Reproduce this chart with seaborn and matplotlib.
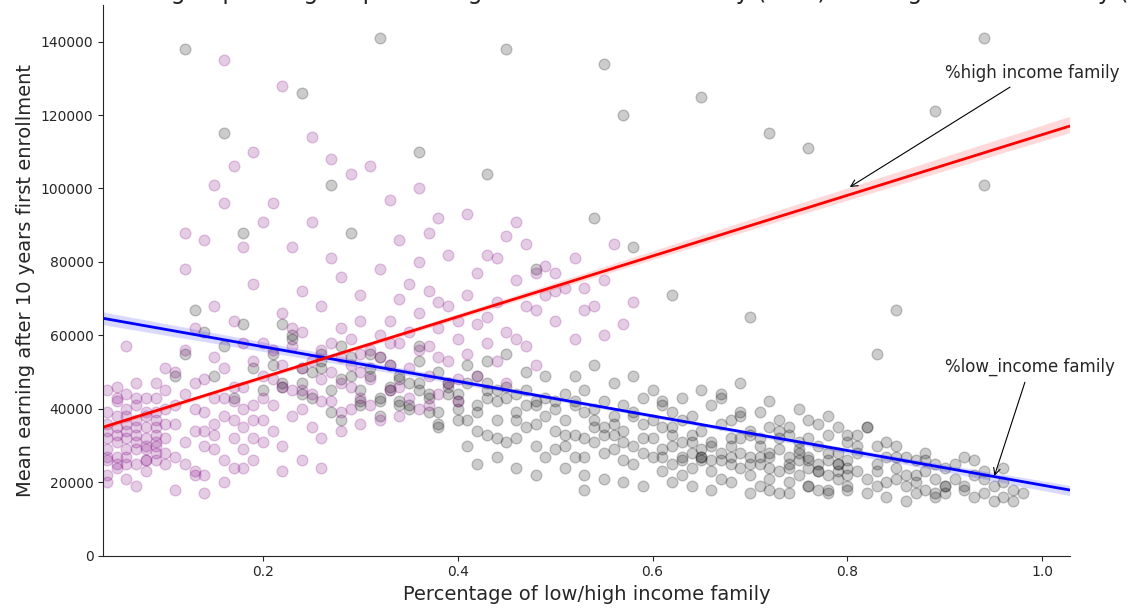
import matplotlib
matplotlib.use('Agg')
import matplotlib.pyplot as plt
import seaborn as sns
import pandas as pd

# (share of low income family, mean earning in thousands)
low_points = [
    # 0.1 - 0.2
    (0.12,55),(0.14,61),(0.15,49),(0.16,57),(0.17,43),(0.18,63),(0.19,51),(0.13,67),(0.20,45),(0.11,49),
    # 0.2 - 0.3
    (0.21,55),(0.22,47),(0.23,59),(0.24,51),(0.25,43),(0.26,53),(0.27,45),(0.28,57),(0.29,49),(0.30,41),
    (0.21,52),(0.22,46),(0.23,60),(0.24,44),(0.25,50),(0.26,55),(0.27,39),(0.28,48),(0.29,54),(0.30,42),
    (0.22,63),(0.24,47),(0.26,51),(0.28,37),(0.30,45),
    # 0.3 - 0.4
    (0.31,49),(0.32,43),(0.33,52),(0.34,41),(0.35,47),(0.36,45),(0.37,39),(0.38,50),(0.39,44),(0.40,37),
    (0.31,55),(0.32,42),(0.33,46),(0.34,48),(0.35,40),(0.36,53),(0.37,44),(0.38,35),(0.39,47),(0.40,42),
    (0.31,51),(0.32,38),(0.33,45),(0.34,49),(0.35,41),(0.36,57),(0.37,43),(0.38,36),(0.39,46),(0.40,40),
    (0.32,54),(0.34,42),(0.36,47),(0.38,39),(0.40,44),
    # 0.4 - 0.5
    (0.41,47),(0.42,41),(0.43,45),(0.44,37),(0.45,43),(0.46,39),(0.47,35),(0.48,42),(0.49,38),(0.50,34),
    (0.41,37),(0.42,49),(0.43,33),(0.44,45),(0.45,31),(0.46,44),(0.47,41),(0.48,30),(0.49,43),(0.50,40),
    (0.41,52),(0.42,34),(0.43,47),(0.44,32),(0.45,46),(0.46,32),(0.47,45),(0.48,36),(0.49,27),(0.50,42),
    (0.41,30),(0.43,53),(0.45,55),(0.47,50),(0.49,49),(0.42,25),(0.44,27),(0.46,24),(0.48,22),(0.50,29),
    (0.42,39),(0.44,42),(0.46,37),(0.48,41),(0.43,43),
    # 0.5 - 0.6
    (0.51,37),(0.52,33),(0.53,39),(0.54,31),(0.55,35),(0.56,29),(0.57,34),(0.58,30),(0.59,36),(0.60,32),
    (0.51,30),(0.52,42),(0.53,27),(0.54,40),(0.55,28),(0.56,38),(0.57,26),(0.58,39),(0.59,28),(0.60,37),
    (0.51,44),(0.52,27),(0.53,45),(0.54,35),(0.55,42),(0.56,33),(0.57,41),(0.58,25),(0.59,43),(0.60,27),
    (0.51,24),(0.53,22),(0.55,21),(0.57,20),(0.59,19),(0.52,49),(0.54,52),(0.56,47),(0.58,49),(0.60,45),
    (0.51,33),(0.53,32),(0.55,33),(0.57,31),(0.59,32),(0.53,18),(0.52,41),(0.54,37),(0.56,36),(0.58,38),
    # 0.6 - 0.7
    (0.61,29),(0.62,33),(0.63,27),(0.64,31),(0.65,26),(0.66,30),(0.67,28),(0.68,25),(0.69,32),(0.70,27),
    (0.61,35),(0.62,25),(0.63,37),(0.64,24),(0.65,34),(0.66,23),(0.67,36),(0.68,30),(0.69,24),(0.70,33),
    (0.61,23),(0.62,39),(0.63,22),(0.64,38),(0.65,29),(0.66,41),(0.67,21),(0.68,37),(0.69,39),(0.70,22),
    (0.61,41),(0.63,43),(0.65,45),(0.67,43),(0.69,47),(0.62,20),(0.64,19),(0.66,18),(0.68,20),(0.70,17),
    (0.61,42),(0.62,35),(0.64,33),(0.66,31),(0.68,32),(0.70,34),(0.65,27),(0.63,26),(0.67,44),(0.69,38),
    (0.61,27),(0.63,31),(0.65,27),(0.67,26),(0.69,28),(0.62,30),(0.64,28),(0.66,26),(0.68,27),(0.70,25),
    # 0.7 - 0.8
    (0.71,27),(0.72,24),(0.73,29),(0.74,25),(0.75,22),(0.76,27),(0.77,23),(0.78,26),(0.79,21),(0.80,24),
    (0.71,32),(0.72,21),(0.73,34),(0.74,20),(0.75,31),(0.76,19),(0.77,30),(0.78,18),(0.79,28),(0.80,19),
    (0.71,19),(0.72,35),(0.73,17),(0.74,33),(0.75,26),(0.76,37),(0.77,18),(0.78,33),(0.79,25),(0.80,31),
    (0.71,39),(0.72,42),(0.73,37),(0.74,35),(0.75,40),(0.76,32),(0.77,36),(0.78,38),(0.79,35),(0.80,33),
    (0.71,30),(0.72,27),(0.73,32),(0.74,24),(0.75,29),(0.76,26),(0.77,23),(0.78,28),(0.79,25),(0.80,22),
    (0.71,25),(0.72,28),(0.73,23),(0.74,27),(0.75,28),(0.76,24),(0.77,25),(0.78,22),(0.79,23),(0.80,26),
    (0.72,18),(0.74,17),(0.76,19),(0.78,17),(0.80,18),
    # 0.8 - 0.9
    (0.81,23),(0.82,21),(0.83,25),(0.84,20),(0.85,24),(0.86,19),(0.87,22),(0.88,18),(0.89,21),(0.90,19),
    (0.81,28),(0.82,17),(0.83,30),(0.84,16),(0.85,27),(0.86,15),(0.87,26),(0.88,23),(0.89,16),(0.90,24),
    (0.81,33),(0.82,35),(0.83,19),(0.84,31),(0.85,30),(0.86,27),(0.87,17),(0.88,28),(0.89,25),(0.90,17),
    (0.81,30),(0.82,35),(0.84,27),(0.85,21),(0.83,23),(0.86,22),(0.88,26),(0.89,17),(0.87,20),(0.90,19),
    # 0.9 - 1.0
    (0.91,21),(0.92,18),(0.93,22),(0.94,17),(0.95,19),(0.96,16),(0.97,18),(0.91,25),(0.92,27),(0.93,16),
    (0.94,23),(0.95,15),(0.96,20),(0.97,15),(0.98,17),(0.93,26),(0.96,24),(0.92,19),(0.94,21),
    # scattered high earners
    (0.12,138),(0.16,115),(0.24,126),(0.27,101),(0.32,141),(0.36,110),(0.45,138),(0.43,104),(0.55,134),
    (0.57,120),(0.65,125),(0.72,115),(0.76,111),(0.89,121),(0.94,141),(0.94,101),
    (0.54,92),(0.62,71),(0.70,65),(0.85,67),(0.83,55),(0.58,84),(0.18,88),(0.29,88),(0.48,78),
]

# (share of high income family, mean earning in thousands)
high_points = [
    # 0.0 - 0.1
    (0.02,32),(0.03,37),(0.04,29),(0.05,35),(0.06,40),(0.07,33),(0.08,38),(0.09,43),(0.10,36),
    (0.02,26),(0.03,44),(0.04,34),(0.05,27),(0.06,32),(0.07,41),(0.08,30),(0.09,35),(0.10,45),
    (0.03,24),(0.04,39),(0.05,46),(0.06,25),(0.07,37),(0.08,43),(0.09,28),(0.10,32),(0.04,26),
    (0.05,31),(0.06,36),(0.07,29),(0.08,35),(0.09,39),(0.03,34),(0.04,22),(0.05,38),(0.06,44),
    (0.07,47),(0.08,26),(0.09,33),(0.10,40),(0.04,32),(0.05,42),(0.06,29),(0.07,25),(0.08,26),
    (0.09,37),(0.03,41),(0.04,36),(0.05,33),(0.06,38),(0.07,35),(0.08,32),(0.09,30),(0.10,28),
    (0.04,27),(0.05,25),(0.06,21),(0.07,43),(0.08,39),(0.03,30),(0.04,45),(0.06,34),(0.07,31),
    (0.05,24),(0.08,23),(0.09,47),(0.10,51),(0.02,39),(0.03,28),(0.06,57),(0.07,19),(0.09,26),
    (0.05,43),(0.08,29),(0.06,27),(0.04,20),(0.10,25),(0.09,31),
    # 0.1 - 0.2
    (0.11,36),(0.12,31),(0.13,40),(0.14,34),(0.15,43),(0.16,38),(0.17,32),(0.18,46),(0.19,41),(0.20,37),
    (0.11,27),(0.12,44),(0.13,23),(0.14,48),(0.15,29),(0.16,51),(0.17,42),(0.18,35),(0.19,26),(0.20,49),
    (0.11,41),(0.12,25),(0.13,34),(0.14,39),(0.15,36),(0.16,26),(0.17,46),(0.18,40),(0.19,53),(0.20,31),
    (0.12,56),(0.13,47),(0.14,30),(0.15,54),(0.16,43),(0.17,24),(0.18,58),(0.19,37),(0.20,43),(0.11,50),
    (0.13,62),(0.15,68),(0.17,64),(0.19,74),(0.12,78),(0.14,86),(0.16,96),(0.18,84),(0.20,91),(0.15,101),
    (0.13,22),(0.16,20),(0.18,24),(0.11,18),(0.14,22),(0.17,106),(0.19,110),(0.12,88),(0.16,135),(0.20,58),
    (0.14,17),(0.18,29),(0.15,33),(0.17,37),(0.19,32),
    # 0.2 - 0.3
    (0.21,41),(0.22,46),(0.23,38),(0.24,51),(0.25,44),(0.26,48),(0.27,42),(0.28,54),(0.29,46),(0.30,50),
    (0.21,34),(0.22,52),(0.23,57),(0.24,40),(0.25,35),(0.26,56),(0.27,50),(0.28,39),(0.29,59),(0.30,43),
    (0.21,48),(0.22,30),(0.23,45),(0.24,61),(0.25,53),(0.26,32),(0.27,58),(0.28,47),(0.29,40),(0.30,55),
    (0.22,66),(0.24,72),(0.26,68),(0.28,76),(0.30,64),(0.23,84),(0.25,91),(0.27,81),(0.29,104),(0.21,96),
    (0.24,26),(0.26,24),(0.28,34),(0.22,23),(0.30,36),(0.25,114),(0.22,128),(0.27,108),(0.23,62),(0.29,52),
    (0.21,56),(0.26,42),(0.28,62),(0.24,45),(0.30,71),
    # 0.3 - 0.4
    (0.31,48),(0.32,54),(0.33,45),(0.34,58),(0.35,51),(0.36,56),(0.37,49),(0.38,62),(0.39,53),(0.40,59),
    (0.31,41),(0.32,60),(0.33,64),(0.34,46),(0.35,43),(0.36,66),(0.37,57),(0.38,44),(0.39,68),(0.40,48),
    (0.31,56),(0.32,37),(0.33,52),(0.34,70),(0.35,61),(0.36,40),(0.37,72),(0.38,54),(0.39,47),(0.40,64),
    (0.32,78),(0.34,86),(0.36,80),(0.38,92),(0.33,97),(0.35,74),(0.37,88),(0.39,82),(0.31,106),(0.36,100),
    (0.34,38),(0.37,41),(0.40,42),(0.33,58),(0.38,69),
    # 0.4 - 0.6
    (0.41,55),(0.42,63),(0.43,58),(0.44,69),(0.45,61),(0.46,75),(0.47,57),(0.48,67),(0.49,79),(0.50,64),
    (0.41,71),(0.42,49),(0.43,82),(0.44,53),(0.45,87),(0.46,59),(0.47,85),(0.48,52),(0.49,71),(0.50,72),
    (0.42,77),(0.44,81),(0.46,91),(0.48,77),(0.43,65),(0.45,47),(0.47,68),(0.41,93),
    (0.51,73),(0.52,81),(0.53,67),(0.54,68),(0.55,75),(0.56,85),(0.57,63),(0.52,59),(0.55,60),(0.58,69),
    (0.53,73),(0.50,77),
]

df_low = pd.DataFrame(low_points, columns=['pct', 'earn'])
df_low['earn'] = df_low['earn'] * 1000
df_high = pd.DataFrame(high_points, columns=['pct', 'earn'])
df_high['earn'] = df_high['earn'] * 1000

sns.set_style('ticks')
plt.rcParams['font.family'] = ['DejaVu Sans']

fig, ax = plt.subplots(figsize=(11.33, 6.12), dpi=100)
fig.subplots_adjust(left=0.091, right=0.944, bottom=0.092, top=0.992)
ax.set_xlim(0.036, 1.028)
ax.set_ylim(0, 150000)

sns.regplot(x='pct', y='earn', data=df_low, ax=ax, truncate=False, seed=1, ci=40,
            scatter_kws={'color': 'black', 'alpha': 0.2, 's': 60, 'linewidths': 1},
            line_kws={'color': 'blue', 'lw': 2})
sns.regplot(x='pct', y='earn', data=df_high, ax=ax, truncate=False, seed=1, ci=40,
            scatter_kws={'color': 'purple', 'alpha': 0.2, 's': 60, 'linewidths': 1},
            line_kws={'color': 'red', 'lw': 2})

ax.set_xlim(0.036, 1.028)
ax.set_ylim(0, 150000)
ax.set_yticks(range(0, 140001, 20000))
ax.set_xticks([0.2, 0.4, 0.6, 0.8, 1.0])
ax.tick_params(labelsize=10)
ax.set_xlabel('Percentage of low/high income family', fontsize=14)
ax.set_ylabel('Mean earning after 10 years first enrollment', fontsize=14)

ax.annotate('%high income family', xy=(0.8, 100000), xytext=(0.9, 130000), fontsize=12,
            arrowprops=dict(arrowstyle='->', color='black', lw=0.8))
ax.annotate('%low_income family', xy=(0.95, 21000), xytext=(0.9, 50000), fontsize=12,
            arrowprops=dict(arrowstyle='->', color='black', lw=0.8))

# title sits above the canvas, only its lowest part shows as in the original
fig.text(0.53, 1.002, 'Mean earning depending on percentage of low income family (blue) and high income family (red)',
         ha='center', va='baseline', fontsize=17)
sns.despine()

plt.savefig('out.png', dpi=100)
